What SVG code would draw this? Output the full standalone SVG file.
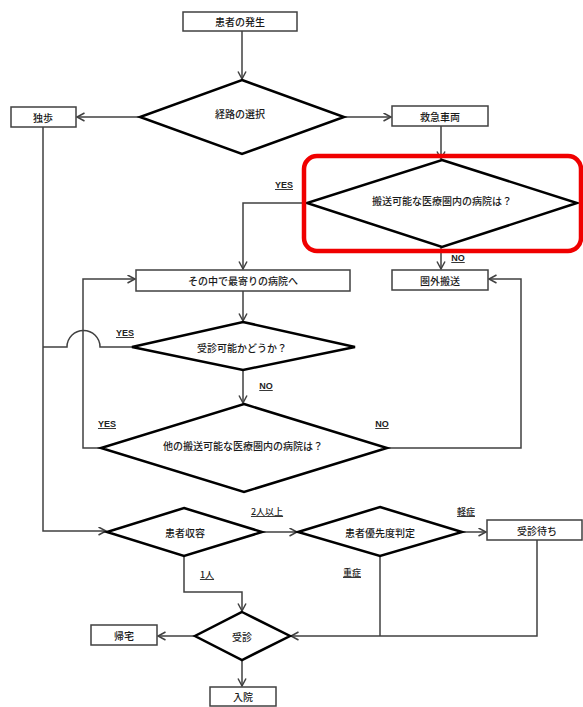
<svg xmlns="http://www.w3.org/2000/svg" width="583" height="707" viewBox="0 0 583 707">
<defs>
<style>
.box{fill:#fff;stroke:#404040;stroke-width:1.5}
.dia{fill:#fff;stroke:#000;stroke-width:2.5;stroke-linejoin:miter}
.ln{fill:none;stroke:#404040;stroke-width:1.5}
.t{font-family:"Noto Sans CJK JP","Noto Sans",sans-serif;font-size:10px;font-weight:500;fill:#1a1a1a;text-anchor:middle;dominant-baseline:central}
.lb{font-family:"Liberation Sans","Noto Sans CJK JP",sans-serif;font-size:9px;font-weight:bold;fill:#222;text-anchor:middle;text-decoration:underline}
.lbj{font-family:"Noto Sans CJK JP",sans-serif;font-size:9px;font-weight:500;fill:#222;text-anchor:middle;text-decoration:underline}
</style>
<marker id="ah" markerWidth="10" markerHeight="10" refX="8" refY="4.5" orient="auto" markerUnits="userSpaceOnUse">
<path d="M0.5,0.5 L8,4.5 L0.5,8.5" fill="none" stroke="#404040" stroke-width="1.5"/>
</marker>
</defs>
<rect width="583" height="707" fill="#fff"/>

<g id="connectors">
<line class="ln" x1="242" y1="31" x2="242" y2="79" marker-end="url(#ah)"/>
<line class="ln" x1="140" y1="117" x2="77" y2="117" marker-end="url(#ah)"/>
<line class="ln" x1="344" y1="117" x2="391" y2="117" marker-end="url(#ah)"/>
<line class="ln" x1="441" y1="126" x2="441" y2="159" marker-end="url(#ah)"/>
<polyline class="ln" points="307,203 243,203 243,269" marker-end="url(#ah)"/>
<line class="ln" x1="441" y1="247" x2="441" y2="269" marker-end="url(#ah)"/>
<line class="ln" x1="243" y1="291" x2="243" y2="321" marker-end="url(#ah)"/>
<line class="ln" x1="243" y1="370" x2="243" y2="403" marker-end="url(#ah)"/>
<path class="ln" d="M132,347 L100,347 A16.5,16.5 0 0 0 67,347 L43,347"/>
<polyline class="ln" points="101,448 83,448 83,279 135,279" marker-end="url(#ah)"/>
<polyline class="ln" points="387,448 521,448 521,279 489,279" marker-end="url(#ah)"/>
<polyline class="ln" points="43,127 43,531 106,531" marker-end="url(#ah)"/>
<line class="ln" x1="262" y1="532" x2="297" y2="532" marker-end="url(#ah)"/>
<line class="ln" x1="462" y1="532" x2="486" y2="532" marker-end="url(#ah)"/>
<polyline class="ln" points="184,556 184,592 242,592 242,611" marker-end="url(#ah)"/>
<polyline class="ln" points="537,540 537,636 291,636" marker-end="url(#ah)"/>
<line class="ln" x1="380" y1="556" x2="380" y2="636"/>
<line class="ln" x1="195" y1="636" x2="158" y2="636" marker-end="url(#ah)"/>
<line class="ln" x1="242" y1="660" x2="242" y2="686" marker-end="url(#ah)"/>
</g>

<g id="labels">
<text class="lb" x="284" y="188">YES</text>
<text class="lb" x="458" y="261">NO</text>
<text class="lb" x="125" y="336">YES</text>
<text class="lb" x="266" y="389">NO</text>
<text class="lb" x="107" y="427">YES</text>
<text class="lb" x="382" y="427">NO</text>
<text class="lbj" x="267" y="515">2人以上</text>
<text class="lbj" x="466" y="515">軽症</text>
<text class="lbj" x="207" y="578">1人</text>
<text class="lbj" x="352" y="576">重症</text>
</g>

<g id="n-start"><rect class="box" x="183" y="12" width="114" height="19"/><text class="t" x="240" y="21.5">患者の発生</text></g>
<g id="n-route"><polygon class="dia" points="242,80 344,117 242,154 140,117"/><text class="t" x="240" y="113">経路の選択</text></g>
<g id="n-walk"><rect class="box" x="11" y="107" width="65" height="20"/><text class="t" x="43" y="117">独歩</text></g>
<g id="n-amb"><rect class="box" x="392" y="106" width="96" height="20"/><text class="t" x="440" y="116">救急車両</text></g>
<g id="n-q1"><polygon class="dia" points="442,160 577,203 442,247 307,203"/><text class="t" x="442" y="200">搬送可能な医療圏内の病院は？</text></g>
<g id="highlight"><rect x="304" y="156" width="277" height="95" rx="13" ry="13" fill="none" stroke="#f00000" stroke-width="4.5"/></g>
<g id="n-nearest"><rect class="box" x="136" y="270" width="214" height="21"/><text class="t" x="243" y="280.5">その中で最寄りの病院へ</text></g>
<g id="n-outside"><rect class="box" x="392" y="270" width="96" height="20"/><text class="t" x="440" y="280">圏外搬送</text></g>
<g id="n-q2"><polygon class="dia" points="243,322 355,347 243,370 132,347"/><text class="t" x="242" y="347">受診可能かどうか？</text></g>
<g id="n-q3"><polygon class="dia" points="244,404 387,448 244,492 101,448"/><text class="t" x="243" y="445">他の搬送可能な医療圏内の病院は？</text></g>
<g id="n-accept"><polygon class="dia" points="184,508 262,532 184,556 107,532"/><text class="t" x="185" y="532">患者収容</text></g>
<g id="n-triage"><polygon class="dia" points="380,507 462,532 380,556 298,532"/><text class="t" x="380" y="532">患者優先度判定</text></g>
<g id="n-wait"><rect class="box" x="487" y="520" width="95" height="20"/><text class="t" x="537" y="530">受診待ち</text></g>
<g id="n-exam"><polygon class="dia" points="242,612 290,636 242,660 195,636"/><text class="t" x="242" y="636">受診</text></g>
<g id="n-home"><rect class="box" x="91" y="625" width="66" height="20"/><text class="t" x="124" y="635">帰宅</text></g>
<g id="n-admit"><rect class="box" x="210" y="687" width="66" height="19"/><text class="t" x="243" y="696.5">入院</text></g>
</svg>
